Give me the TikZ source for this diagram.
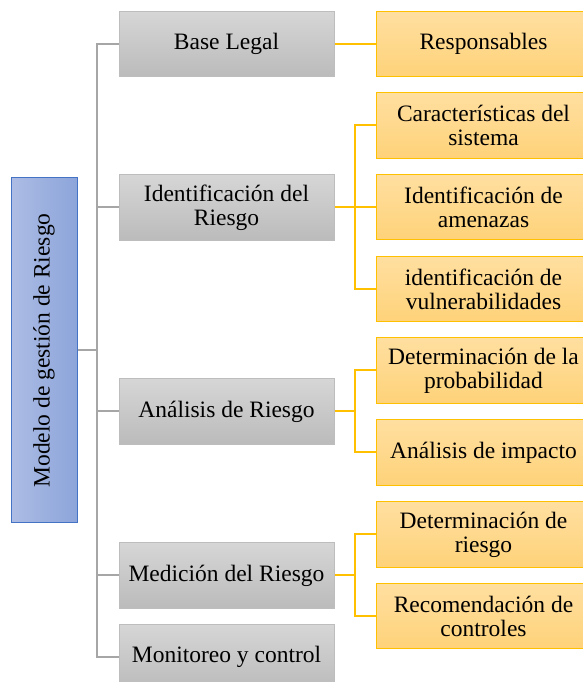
\documentclass[tikz,border=0pt]{standalone}
\usepackage{fontspec}
\setmainfont{Liberation Serif}
\definecolor{gborder}{HTML}{BDBDBD}
\definecolor{gtop}{HTML}{D6D6D6}
\definecolor{gbot}{HTML}{BBBBBB}
\definecolor{oborder}{HTML}{FFC000}
\definecolor{otop}{HTML}{FFDFA0}
\definecolor{obot}{HTML}{FED279}
\definecolor{rborder}{HTML}{4472C4}
\definecolor{rleft}{HTML}{ADBCE4}
\definecolor{rright}{HTML}{8CA5DA}
\definecolor{gconn}{HTML}{A6A6A6}
\begin{document}
\begin{tikzpicture}[x=1pt,y=1pt,
  txt/.style={font=\fontsize{23.5}{24}\selectfont,align=center,inner sep=0pt},
  base/.style={minimum width=215pt,minimum height=65.5pt,inner sep=0pt,line width=1pt},
  graybox/.style={base,draw=gborder,top color=gtop,bottom color=gbot},
  orangebox/.style={base,draw=oborder,top color=otop,bottom color=obot},
  rootbox/.style={draw=rborder,line width=1pt,minimum width=66pt,minimum height=345pt,
    left color=rleft,right color=rright,inner sep=0pt},
  gline/.style={draw=gconn,line width=2pt},
  oline/.style={draw=oborder,line width=2pt}]
\useasboundingbox (0,0) rectangle (582,682);
% root
\node[rootbox] (root) at (44,682-350.5) {};
% gray boxes
\node[graybox] (g1) at (226.5,682-44) {};
\node[graybox] (g2) at (226.5,682-207.5) {};
\node[graybox] (g3) at (226.5,682-411.5) {};
\node[graybox] (g4) at (226.5,682-575.5) {};
\node[graybox] (g5) at (226.5,682-657) {};
% orange boxes
\node[orangebox] (o1) at (483.5,682-44) {};
\node[orangebox] (o2) at (483.5,682-125.5) {};
\node[orangebox] (o3) at (483.5,682-207) {};
\node[orangebox] (o4) at (483.5,682-289) {};
\node[orangebox] (o5) at (483.5,682-370.5) {};
\node[orangebox] (o6) at (483.5,682-452.5) {};
\node[orangebox] (o7) at (483.5,682-534.5) {};
\node[orangebox] (o8) at (483.5,682-616) {};
% texts
\node[txt,rotate=90] (troot) at (root.center) {Modelo de gestión de Riesgo};
\node[txt] (t1) at (g1.center) {Base Legal};
\node[txt] (t2) at (g2.center) {Identificación del\\Riesgo};
\node[txt] (t3) at (g3.center) {Análisis de Riesgo};
\node[txt] (t4) at (g4.center) {Medición del Riesgo};
\node[txt] (t5) at (g5.center) {Monitoreo y control};
\node[txt] (u1) at (o1.center) {Responsables};
\node[txt] (u2) at (o2.center) {Características del\\sistema};
\node[txt] (u3) at (o3.center) {Identificación de\\amenazas};
\node[txt] (u4) at (o4.center) {identificación de\\vulnerabilidades};
\node[txt] (u5) at (o5.center) {Determinación de la\\probabilidad};
\node[txt] (u6) at (o6.center) {Análisis de impacto};
\node[txt] (u7) at (o7.center) {Determinación de\\riesgo};
\node[txt] (u8) at (o8.center) {Recomendación de\\controles};
% gray connectors
\coordinate (trunk) at (97,0);
\begin{scope}[gline]
\draw (root.east) -- (root.east -| trunk);
\draw (g1.west) -- (g1.west -| trunk) |- (g5.west);
\foreach \g in {g2,g3,g4} \draw (\g.west) -- (\g.west -| trunk);
\end{scope}
% orange connectors
\coordinate (ob) at (355,0);
\begin{scope}[oline]
\draw (g1.east) -- (o1.west);
\draw (g2.east) -- (g2.east -| ob);
\draw (o2.west) -- (o2.west -| ob) |- (o4.west);
\draw (o3.west) -- (o3.west -| ob);
\draw (g3.east) -- (g3.east -| ob);
\draw (o5.west) -- (o5.west -| ob) |- (o6.west);
\draw (g4.east) -- (g4.east -| ob);
\draw (o7.west) -- (o7.west -| ob) |- (o8.west);
\end{scope}
\end{tikzpicture}
\end{document}
